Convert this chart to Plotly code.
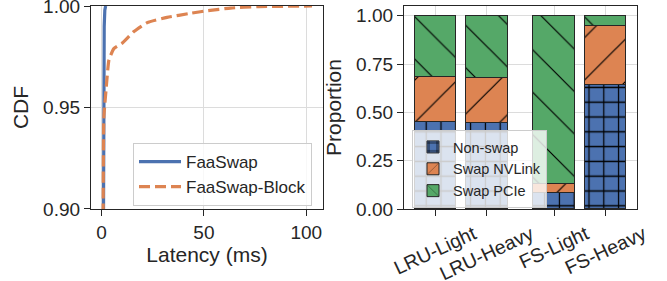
import plotly.graph_objects as go

# ---- Left panel: latency CDF ----
faaswap_x = [0.6, 0.9, 1.0, 1.1, 1.3, 1.6, 2.0]
faaswap_y = [0.80, 0.88, 0.93, 0.97, 0.99, 0.998, 1.0]
block_x = [0.6, 0.8, 1.1, 2.3, 3.6, 6.0, 10.0, 15.8, 22.3, 32.0, 43.4, 51.6, 63.0, 76.0, 102.8]
block_y = [0.85, 0.90, 0.9448, 0.960, 0.9734, 0.979, 0.9816, 0.9874, 0.9918, 0.9944, 0.9964, 0.9977, 0.999, 0.9997, 1.0]

# ---- Right panel: proportions ----
categories = ["LRU-Light", "LRU-Heavy", "FS-Light", "FS-Heavy"]
non_swap = [0.449, 0.444, 0.084, 0.642]
swap_nvlink = [0.236, 0.232, 0.045, 0.303]
swap_pcie = [0.315, 0.324, 0.871, 0.055]

BLUE, ORANGE, GREEN = "#4C72B0", "#DD8452", "#55A868"
INK = "#262626"
GRID = "#dcdcdc"
FONT = "Liberation Sans, Arial, sans-serif"

# bar positions: two groups with a small extra gap between them
group_gap = 0.3
xpos = [i + (group_gap if i >= 2 else 0) for i in range(len(categories))]

fig = go.Figure()

fig.add_trace(go.Scatter(x=faaswap_x, y=faaswap_y, mode="lines", name="FaaSwap",
                         line=dict(color=BLUE, width=3.2), xaxis="x", yaxis="y",
                         legend="legend"))
fig.add_trace(go.Scatter(x=block_x, y=block_y, mode="lines", name="FaaSwap-Block",
                         line=dict(color=ORANGE, width=3.2, dash="11px,5px", shape="spline", smoothing=0.4),
                         xaxis="x", yaxis="y", legend="legend"))

series = [
    ("Non-swap", non_swap, BLUE, "+", 14.8, 0.16),
    ("Swap NVLink", swap_nvlink, ORANGE, "/", 30, 0.04),
    ("Swap PCIe", swap_pcie, GREEN, "\\", 30, 0.04),
]
for name, vals, color, shape, size, sol in series:
    fig.add_trace(go.Bar(
        x=xpos, y=vals, name=name, width=0.8,
        marker=dict(color=color, line=dict(color=INK, width=1),
                    pattern=dict(shape=shape, fgcolor="#000000", bgcolor=color,
                                 size=size, solidity=sol, fillmode="replace")),
        xaxis="x2", yaxis="y2", legend="legend2"))

W, H = 667, 281
def fx(px):
    return px / W
def fy(py):
    return 1 - py / H

axis_common = dict(showline=True, mirror=True, linecolor=INK, linewidth=1.3,
                   ticks="outside", ticklen=6, tickwidth=1.3, tickcolor=INK,
                   showgrid=True, gridcolor=GRID, gridwidth=1, zeroline=False,
                   automargin=False, ticklabeloverflow="allow",
                   tickfont=dict(family=FONT, size=19, color=INK),
                   title_font=dict(family=FONT, size=21, color=INK))

annotations = []
for xp, lab in zip(xpos, categories):
    annotations.append(dict(x=xp, y=fy(219), xref="x2", yref="paper", text=lab,
                            showarrow=False, textangle=-25, xanchor="center", yanchor="top",
                            font=dict(family=FONT, size=19.5, color=INK)))

fig.update_layout(
    width=W, height=H,
    margin=dict(l=0, r=0, t=0, b=0),
    paper_bgcolor="white", plot_bgcolor="white",
    barmode="stack", bargap=0,
    font=dict(family=FONT, color=INK),
    xaxis=dict(domain=[fx(91), fx(323)], range=[-5.15, 108.15], tickvals=[0, 50, 100],
               title=dict(text="Latency (ms)", standoff=4), anchor="y", **axis_common),
    yaxis=dict(domain=[fy(209), fy(6)], range=[0.89999, 1.00001], tickvals=[0.90, 0.95, 1.00],
               tickformat=".2f", title=dict(text="CDF", standoff=8), anchor="x", **axis_common),
    xaxis2=dict(domain=[fx(404), fx(637)], range=[-0.605, 3.905], tickvals=xpos,
                showticklabels=False, anchor="y2", **axis_common),
    yaxis2=dict(domain=[fy(209), fy(6)], range=[0, 1.05], tickvals=[0, 0.25, 0.5, 0.75, 1.0],
                tickformat=".2f", title=dict(text="Proportion", standoff=8), anchor="x2", **axis_common),
    legend=dict(x=fx(133), y=fy(143), xanchor="left", yanchor="top",
                bgcolor="rgba(255,255,255,0.8)", bordercolor="#cccccc", borderwidth=1,
                font=dict(family=FONT, size=17, color=INK), itemwidth=42, traceorder="normal"),
    legend2=dict(x=fx(412), y=fy(130), xanchor="left", yanchor="top",
                 bgcolor="rgba(255,255,255,0.8)", bordercolor="#cccccc", borderwidth=1,
                 font=dict(family=FONT, size=14.5, color=INK), traceorder="normal"),
    annotations=annotations,
)

fig.write_html("out.html", config={"displayModeBar": False},
               post_script="document.body.style.margin='0';")
